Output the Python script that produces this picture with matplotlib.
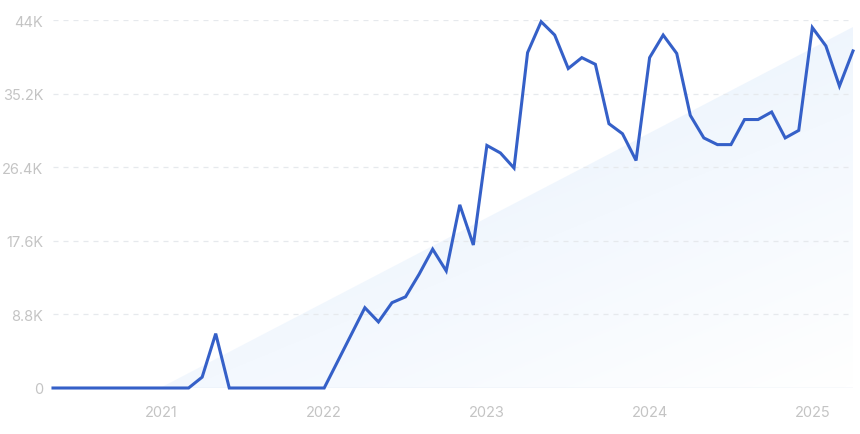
import matplotlib
matplotlib.use("Agg")
import matplotlib.pyplot as plt
import numpy as np
from matplotlib.patches import Polygon

# monthly values, May 2020 .. Apr 2025
months = np.arange(60)
values = [
    0, 0, 0, 0, 0, 0, 0, 0, 0, 0,
    0, 1300, 6500, 0, 0, 0, 0, 0, 0, 0,
    0, 3200, 6400, 9600, 7900, 10200, 10900, 13600, 16600, 14000,
    21900, 17100, 29000, 28100, 26300, 40100, 43800, 42200, 38200, 39500,
    38700, 31600, 30400, 27200, 39500, 42200, 40000, 32600, 29900, 29100,
    29100, 32100, 32100, 33000, 29900, 30800, 43100, 40900, 36100, 40300,
]
year_ticks = [8, 20, 32, 44, 56]
year_labels = ["2021", "2022", "2023", "2024", "2025"]
y_ticks = [0, 8800, 17600, 26400, 35200, 44000]
y_labels = ["0", "8.8K", "17.6K", "26.4K", "35.2K", "44K"]

plt.rcParams["font.family"] = ["Inter", "DejaVu Sans"]

fig = plt.figure(figsize=(8.6, 4.35), dpi=100)
ax = fig.add_axes([53 / 860, 1 - 389 / 435, 800 / 860, 368 / 435])
ax.set_xlim(0, 59)
ax.set_ylim(0, 44000)

# decorative gradient triangle behind the line
grad = np.linspace(0, 1, 256)
gx, gy = np.meshgrid(grad, grad)
alpha = np.clip(0.54 * (1 - gx) + gy * 0.6, 0, 1)
img = np.zeros((256, 256, 4))
img[..., 0] = 0.86
img[..., 1] = 0.92
img[..., 2] = 0.99
img[..., 3] = alpha * 0.75
im = ax.imshow(img, extent=[0, 1, 0, 1], transform=ax.transAxes,
               origin="lower", aspect="auto", zorder=0.5)
tri = Polygon([(107 / 800, 0), (1, 0), (1, 0.98)], closed=True,
              transform=ax.transAxes, facecolor="none", edgecolor="none")
ax.add_patch(tri)
im.set_clip_path(tri)

for t in y_ticks[1:]:
    ax.axhline(t, color="#e6e9ed", linewidth=0.9, linestyle=(0, (4, 4)), zorder=1)
ax.axhline(0, color="#dde5f0", linewidth=1.0, zorder=1)

ax.plot(months, values, color="#3560c8", linewidth=2.2, zorder=3,
        clip_on=False, solid_joinstyle="miter")

for s in ax.spines.values():
    s.set_visible(False)
ax.set_xticks(year_ticks)
ax.set_xticklabels(year_labels)
ax.set_yticks(y_ticks)
ax.set_yticklabels(y_labels)
ax.tick_params(axis="both", length=0, colors="#c4c4c4", labelsize=10.5)
ax.tick_params(axis="x", pad=12)
ax.tick_params(axis="y", pad=7)

fig.savefig("out.png", dpi=100)
